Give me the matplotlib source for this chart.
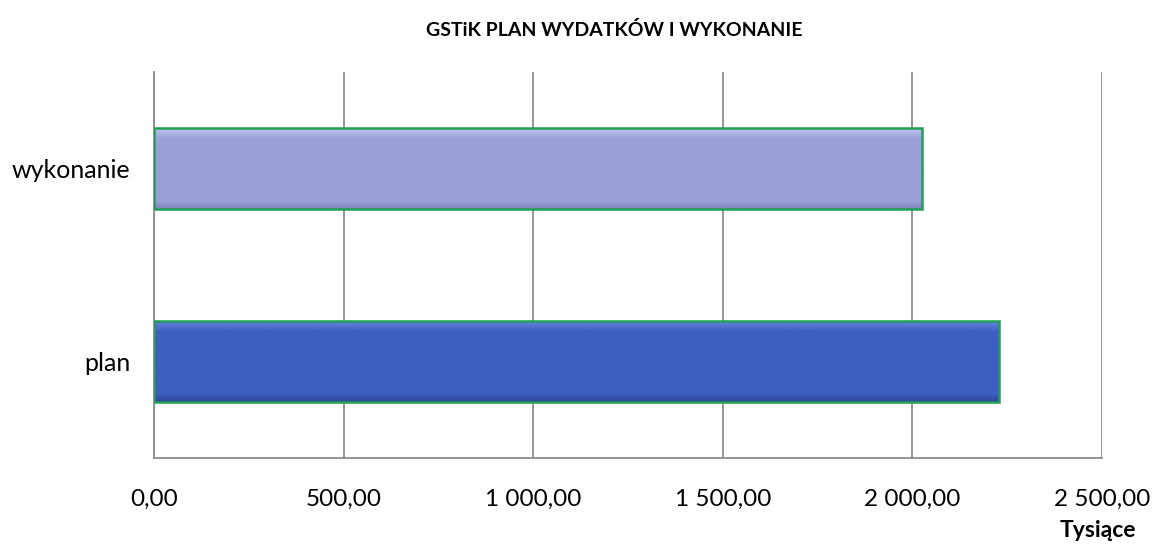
import numpy as np
import matplotlib.pyplot as plt
from matplotlib.colors import LinearSegmentedColormap

# dane (tysiące)
kategorie = ['plan', 'wykonanie']
wartosci = [2228, 2025]
kolory = ['#3e5fc1', '#9ca0d9']
kolory_jasne = ['#6a88e0', '#c4c7f0']
kolory_ciemne = ['#2c4596', '#7f83bd']
tick_vals = [0, 500, 1000, 1500, 2000, 2500]
tick_labels = ['0,00', '500,00', '1 000,00', '1 500,00', '2 000,00', '2 500,00']

plt.rcParams['font.family'] = ['Lato', 'DejaVu Sans']

fig = plt.figure(figsize=(11.54, 5.45), dpi=100)
ax = fig.add_axes([0.1334, 0.1596, 0.8216, 0.7083])

y = np.arange(len(kategorie))
bars = ax.barh(y, wartosci, height=0.42, color='none', edgecolor='#1f9e55', linewidth=1.8, zorder=3)

# gradient (fazowanie) w słupkach
grad = np.linspace(0, 1, 256).reshape(-1, 1)
for b, c, cj, cc in zip(bars, kolory, kolory_jasne, kolory_ciemne):
    cmap = LinearSegmentedColormap.from_list('g', [(0, cc), (0.1, c), (0.86, c), (1, cj)])
    x0, y0 = b.get_x(), b.get_y()
    im = ax.imshow(grad, aspect='auto', cmap=cmap, origin='lower', interpolation='bilinear',
                   extent=[x0, x0 + b.get_width(), y0, y0 + b.get_height()], zorder=2)
    im.set_clip_path(b)

ax.set_xlim(0, 2500)
ax.set_ylim(-0.5, 1.5)
ax.set_xticks(tick_vals)
ax.set_xticklabels(tick_labels, fontsize=17.5)
ax.set_yticks(y)
ax.set_yticklabels(kategorie, fontsize=18)
ax.tick_params(length=0, pad=17, axis='y')
ax.tick_params(length=0, pad=22, axis='x')
ax.grid(axis='x', color='#8c8c8c', linewidth=1.3, zorder=0)
for s in ['top', 'right']:
    ax.spines[s].set_visible(False)
for s in ['left', 'bottom']:
    ax.spines[s].set_color('#8c8c8c')
    ax.spines[s].set_linewidth(1.3)

fig.text(0.532, 0.945, 'GSTiK PLAN WYDATKÓW I WYKONANIE', ha='center', va='center',
         fontsize=14, fontweight='bold')
fig.text(0.951, 0.026, 'Tysiące', ha='center', va='center', fontsize=16.5, fontweight='bold')

fig.savefig('out.png', dpi=100)
